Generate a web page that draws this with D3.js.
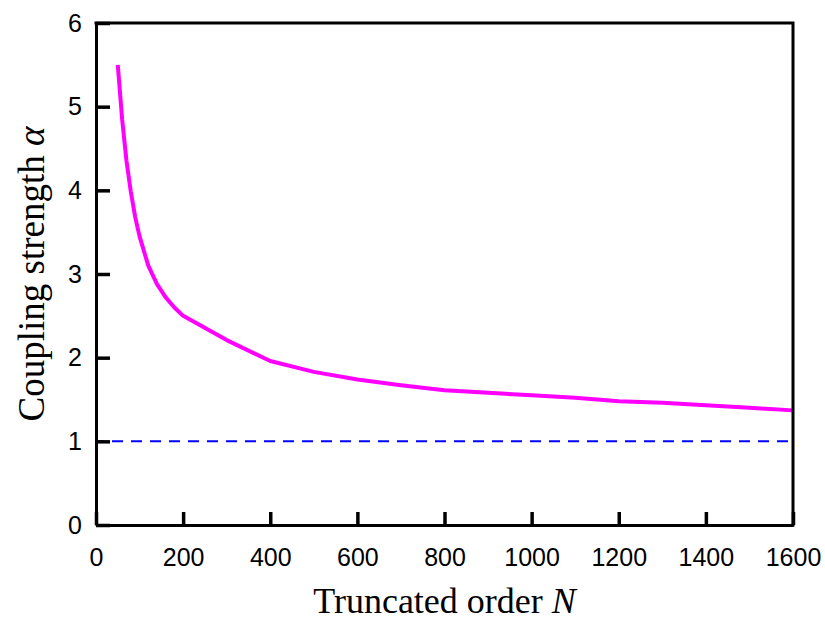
<!DOCTYPE html>
<html>
<head>
<meta charset="utf-8">
<script src="https://cdn.jsdelivr.net/npm/d3@7"></script>
<style>
  body { margin: 0; background: #fff; }
  svg { display: block; }
</style>
</head>
<body>
<div id="chart"></div>
<script>
// truncated order N and coupling strength alpha
const orderN = [50, 60, 70, 80, 90, 100, 120, 140, 160, 180, 200, 300, 400, 500, 600, 700, 800, 900, 1000, 1100, 1200, 1300, 1400, 1500, 1600]
const alphaVals = [5.5, 4.85, 4.35, 3.98, 3.68, 3.45, 3.1, 2.88, 2.72, 2.6, 2.5, 2.21, 1.96, 1.83, 1.74, 1.67, 1.61, 1.58, 1.55, 1.52, 1.48, 1.46, 1.43, 1.4, 1.37]
const refLevel = [1, 1]
const refN = [0, 1600]
const xTicks = [0, 200, 400, 600, 800, 1000, 1200, 1400, 1600]
const yTicks = [0, 1, 2, 3, 4, 5, 6]

const width = 825, height = 622
const margin = {top: 23, right: 32, bottom: 97, left: 96}

const svg = d3.select("#chart")
    .append("svg")
    .attr("width", width)
    .attr("height", height)

const x = d3.scaleLinear().domain([0, 1600]).range([margin.left, width - margin.right])
const y = d3.scaleLinear().domain([0, 6]).range([height - margin.bottom, margin.top])

// dashed reference line at alpha = 1
const refData = refN.map((n, i) => ({n: n, a: refLevel[i]}))
svg.append("path")
    .datum(refData)
    .attr("fill", "none")
    .attr("stroke", "#0000ff")
    .attr("stroke-width", 2)
    .attr("stroke-dasharray", "11,8")
    .attr("stroke-dashoffset", -16)
    .attr("d", d3.line().x(d => x(d.n)).y(d => y(d.a)))

// main curve
const curve = orderN.map((n, i) => ({n: n, a: alphaVals[i]}))
svg.append("path")
    .datum(curve)
    .attr("fill", "none")
    .attr("stroke", "#ff00ff")
    .attr("stroke-width", 4)
    .attr("stroke-linejoin", "round")
    .attr("d", d3.line().x(d => x(d.n)).y(d => y(d.a)))

// axes with inward ticks
const xAxis = svg.append("g")
    .attr("transform", "translate(0," + y(0) + ")")
    .call(d3.axisBottom(x).tickValues(xTicks).tickFormat(d3.format("d")).tickSizeInner(-13).tickSizeOuter(0).tickPadding(23))

const yAxis = svg.append("g")
    .attr("transform", "translate(" + x(0) + ",0)")
    .call(d3.axisLeft(y).tickValues(yTicks).tickFormat(d3.format("d")).tickSizeInner(-14).tickSizeOuter(0).tickPadding(14))

;[xAxis, yAxis].forEach(g => {
    g.select(".domain").attr("stroke", "#000").attr("stroke-width", 3)
    g.selectAll(".tick line").attr("stroke", "#000").attr("stroke-width", 3.5)
    g.selectAll(".tick text")
        .attr("fill", "#000")
        .style("font-family", "'Liberation Sans', Arial, sans-serif")
        .style("font-size", "25px")
})
xAxis.selectAll(".tick text").attr("y", 23)
yAxis.selectAll(".tick text").attr("x", -14)

// frame top and right
svg.append("path")
    .attr("fill", "none")
    .attr("stroke", "#000")
    .attr("stroke-width", 3)
    .attr("stroke-linecap", "square")
    .attr("d", "M" + x(0) + "," + y(6) + "H" + x(1600) + "V" + y(0))

// axis titles
const xTitle = svg.append("text")
    .attr("x", (x(0) + x(1600)) / 2)
    .attr("y", 613)
    .attr("text-anchor", "middle")
    .style("font-family", "'Liberation Serif', 'Times New Roman', serif")
    .style("font-size", "36px")
xTitle.append("tspan").text("Truncated order ")
xTitle.append("tspan").style("font-style", "italic").text("N")

const yTitle = svg.append("text")
    .attr("transform", "translate(44," + (y(0) + y(6)) / 2 + ") rotate(-90)")
    .attr("text-anchor", "middle")
    .style("font-family", "'Liberation Serif', 'Times New Roman', serif")
    .style("font-size", "37px")
yTitle.append("tspan").text("Coupling strength ")
yTitle.append("tspan").style("font-style", "italic").text("α")
</script>
</body>
</html>
